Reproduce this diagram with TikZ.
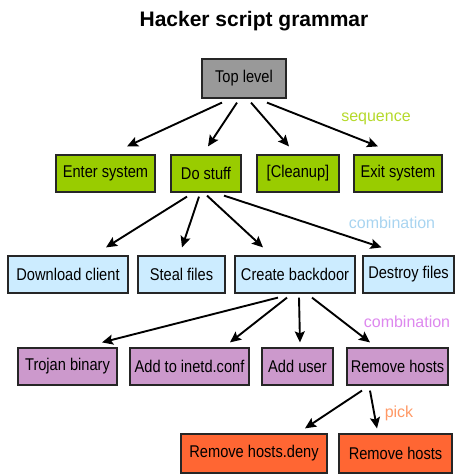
\documentclass[tikz,border=0pt]{standalone}
\usepackage{fontspec}
\setmainfont{Liberation Sans}
\newfontfamily\boxfont{Liberation Sans}[FakeStretch=0.86]
\usetikzlibrary{arrows.meta}

\definecolor{topgray}{HTML}{999999}
\definecolor{seqgreen}{HTML}{99CC00}
\definecolor{combblue}{HTML}{CCECFF}
\definecolor{combpurple}{HTML}{CC99CC}
\definecolor{pickorange}{HTML}{FF6633}
\definecolor{seqtext}{HTML}{B5D92B}
\definecolor{bluetext}{HTML}{A8D4F0}
\definecolor{pinktext}{HTML}{DD88EE}
\definecolor{orangetext}{HTML}{FF9966}

\tikzset{
  gbox/.style={draw=black!85, line width=1.2pt, rectangle, inner sep=0pt,
    font=\boxfont\fontsize{17}{19}\selectfont},
  topbox/.style={gbox, fill=topgray, minimum height=39pt},
  seqbox/.style={gbox, fill=seqgreen, minimum height=37pt},
  combbox/.style={gbox, fill=combblue, minimum height=37pt},
  purpbox/.style={gbox, fill=combpurple, minimum height=37pt},
  pickbox/.style={gbox, fill=pickorange, minimum height=39pt},
  arr/.style={line width=1.9pt, -{Stealth[length=11pt,width=10pt,inset=2pt]}},
  rule/.style={font=\fontsize{16}{18}\selectfont, inner sep=0pt}
}

\begin{document}
\begin{tikzpicture}[x=1pt,y=-1pt]
\useasboundingbox (0,0) rectangle (455,474);
\clip (0,0) rectangle (455,474);

% title
\node[font=\bfseries\fontsize{21}{24}\selectfont, inner sep=0pt] (title) at (254,21) {Hacker script grammar};

% root
\node[topbox, minimum width=84pt] (top) at (244,78.5) {Top level};

% sequence level
\node[seqbox, minimum width=99pt] (enter) at (105.5,173.5) {Enter system};
\node[seqbox, minimum width=70pt] (dostuff) at (206,173.5) {Do stuff};
\node[seqbox, minimum width=82pt] (cleanup) at (298,173.5) {[Cleanup]};
\node[seqbox, minimum width=88pt] (exit) at (398,173.5) {Exit system};

% combination level
\node[combbox, minimum width=120pt] (download) at (68,274.5) {Download client};
\node[combbox, minimum width=87pt] (steal) at (181.5,274.5) {Steal files};
\node[combbox, minimum width=120pt] (create) at (295,274.5) {Create backdoor};
\node[combbox, minimum width=91pt] (destroy) at (408.5,274.5) {Destroy files};

% backdoor options
\node[purpbox, minimum width=99pt] (trojan) at (67.5,366.5) {Trojan binary};
\node[purpbox, minimum width=119pt] (inetd) at (189.5,366.5) {Add to inetd.conf};
\node[purpbox, minimum width=71pt] (adduser) at (297.5,366.5) {Add user};
\node[purpbox, minimum width=101pt] (rmhosts) at (397.5,366.5) {Remove hosts};

% pick level
\node[pickbox, minimum width=146pt] (deny) at (254,453.5) {Remove hosts.deny};
\node[pickbox, minimum width=113pt] (rmhosts2) at (395.5,453.5) {Remove hosts};

% rule labels
\node[rule, text=seqtext] (lseq) at (376,119) {sequence};
\node[rule, text=bluetext] (lcomb1) at (392,223) {combination};
\node[rule, text=pinktext] (lcomb2) at (407,322) {combination};
\node[rule, text=orangetext] (lpick) at (399,413) {pick};

% connectors
\draw[arr] ([shift={(-22pt,-4pt)}]top.south) -- ([shift={(21.5pt,8pt)}]enter.north);
\draw[arr] ([shift={(-7pt,-4pt)}]top.south) -- ([shift={(2pt,8pt)}]dostuff.north);
\draw[arr] ([shift={(7pt,-4pt)}]top.south) -- ([shift={(-9pt,8pt)}]cleanup.north);
\draw[arr] ([shift={(23pt,-4pt)}]top.south) -- ([shift={(-20pt,8pt)}]exit.north);

\draw[arr] ([shift={(-19pt,-4pt)}]dostuff.south) -- ([shift={(38pt,8pt)}]download.north);
\draw[arr] ([shift={(-7pt,-4pt)}]dostuff.south) -- ([shift={(0.5pt,8pt)}]steal.north);
\draw[arr] ([shift={(1pt,-3pt)}]dostuff.south) -- ([shift={(-32pt,8pt)}]create.north);
\draw[arr] ([shift={(18pt,-3pt)}]dostuff.south) -- ([shift={(-27pt,8pt)}]destroy.north);

\draw[arr] ([shift={(-17pt,-4pt)}]create.south) -- ([shift={(34.5pt,5pt)}]trojan.north);
\draw[arr] ([shift={(-8pt,-4pt)}]create.south) -- ([shift={(40.5pt,5pt)}]inetd.north);
\draw[arr] ([shift={(4pt,-4pt)}]create.south) -- ([shift={(2.5pt,5pt)}]adduser.north);
\draw[arr] ([shift={(17pt,-4pt)}]create.south) -- ([shift={(-27.5pt,5pt)}]rmhosts.north);

\draw[arr] ([shift={(-35.5pt,-5pt)}]rmhosts.south) -- ([shift={(51pt,5pt)}]deny.north);
\draw[arr] ([shift={(-27.5pt,-5pt)}]rmhosts.south) -- ([shift={(-18.5pt,5pt)}]rmhosts2.north);
\end{tikzpicture}
\end{document}
